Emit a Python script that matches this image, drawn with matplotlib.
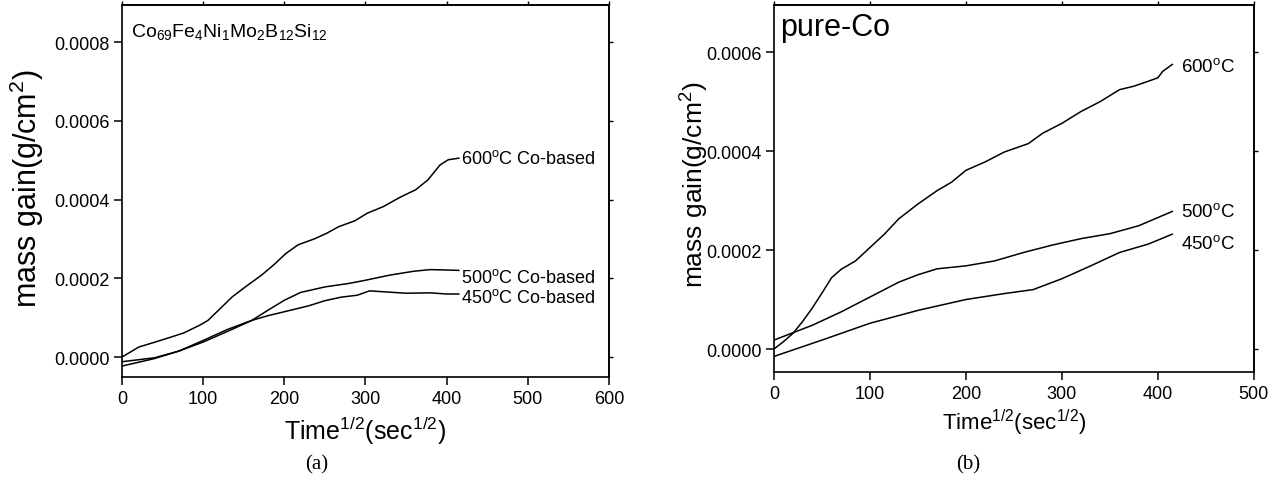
import matplotlib
matplotlib.use('Agg')
import matplotlib.pyplot as plt
import numpy as np

plt.rcParams['font.family'] = ['Liberation Sans', 'DejaVu Sans']
plt.rcParams['mathtext.fontset'] = 'custom'
plt.rcParams['mathtext.rm'] = 'Liberation Sans'
plt.rcParams['mathtext.it'] = 'Liberation Sans:italic'

# ---- data: (a) Co-based alloy ----
a_x600 = [0, 21, 41, 61, 76, 96, 106, 121, 136, 152, 172, 187, 202, 217, 237, 252,
          267, 287, 302, 322, 342, 362, 377, 392, 402, 415]
a_y600 = [0.0, 0.0000255, 0.000038, 0.000051, 0.000061, 0.000081, 0.000093, 0.000123,
          0.000153, 0.000178, 0.000208, 0.000234, 0.000263, 0.000285, 0.0003, 0.000314,
          0.000331, 0.000346, 0.000365, 0.000382, 0.000405, 0.000425, 0.00045, 0.000488,
          0.000501, 0.000505]
a_x500 = [0, 40, 70, 100, 130, 160, 180, 200, 220, 250, 280, 300, 330, 360, 380, 400, 415]
a_y500 = [-0.000023, -0.000004, 0.000015, 0.000038, 0.000065, 0.000093, 0.000119, 0.000144,
          0.000164, 0.000178, 0.000187, 0.000195, 0.000208, 0.000218, 0.000222, 0.000221,
          0.00022]
a_x450 = [0, 40, 70, 100, 130, 160, 180, 200, 230, 250, 270, 290, 305, 320, 350, 380, 400, 415]
a_y450 = [-0.000012, -0.000002, 0.000015, 0.000042, 0.00007, 0.000093, 0.000105, 0.000115,
          0.00013, 0.000143, 0.000152, 0.000157, 0.000168, 0.000166, 0.000162, 0.000163,
          0.00016, 0.00016]
a_labels = ['600$\\mathregular{^o}$C Co-based', '500$\\mathregular{^o}$C Co-based',
            '450$\\mathregular{^o}$C Co-based']
a_label_y = [0.000505, 0.000204, 0.000153]

# ---- data: (b) pure Co ----
b_x600 = [0, 10, 20, 30, 40, 50, 60, 70, 85, 100, 115, 130, 150, 170, 185, 200, 220, 240,
          265, 280, 300, 320, 340, 360, 375, 390, 400, 405, 415]
b_y600 = [0.0, 0.000015, 0.000032, 0.000056, 0.000083, 0.000113, 0.000144, 0.000161,
          0.000178, 0.000205, 0.000232, 0.000263, 0.000293, 0.00032, 0.000337, 0.000361,
          0.000378, 0.000398, 0.000415, 0.000436, 0.000456, 0.00048, 0.0005, 0.000524,
          0.000531, 0.000541, 0.000548, 0.000561, 0.000575]
b_x500 = [0, 20, 40, 70, 100, 130, 150, 170, 200, 230, 260, 290, 320, 350, 380, 415]
b_y500 = [0.000018, 0.000033, 0.000048, 0.000075, 0.000105, 0.000135, 0.00015, 0.000162,
          0.000168, 0.000178, 0.000195, 0.00021, 0.000223, 0.000233, 0.000249, 0.000278]
b_x450 = [0, 50, 100, 150, 200, 240, 270, 300, 330, 360, 390, 415]
b_y450 = [-0.000015, 0.000018, 0.000052, 0.000078, 0.0001, 0.000112, 0.00012, 0.000142,
          0.000168, 0.000195, 0.000212, 0.000232]
b_labels = ['600$\\mathregular{^o}$C', '500$\\mathregular{^o}$C', '450$\\mathregular{^o}$C']
b_label_y = [0.000571, 0.000278, 0.000215]

xlab = 'Time$\\mathregular{^{1/2}}$(sec$\\mathregular{^{1/2}}$)'
ylab = 'mass gain(g/cm$\\mathregular{^2}$)'


def style(ax, xt, yt):
    ax.set_xticks(xt)
    ax.set_yticks(yt)
    ax.set_yticklabels([f'{v:.4f}' for v in yt])
    ax.tick_params(axis='both', direction='out', length=6, width=1.1,
                   labelsize=13, pad=3)
    # small marks on top / right spines, no labels
    sec_x = ax.secondary_xaxis('top')
    sec_x.set_xticks(xt)
    sec_x.tick_params(direction='out', length=3, width=1.0, labeltop=False)
    sec_y = ax.secondary_yaxis('right')
    sec_y.set_yticks(yt)
    sec_y.tick_params(direction='out', length=3, width=1.0, labelright=False)
    for s in list(ax.spines.values()) + [sec_x.spines['top'], sec_y.spines['right']]:
        s.set_linewidth(1.2)


fig = plt.figure(figsize=(12.85, 4.81), dpi=100)

# (a)
ax1 = fig.add_axes([0.0949, 0.2141, 0.379, 0.7734])
for x, y in [(a_x600, a_y600), (a_x500, a_y500), (a_x450, a_y450)]:
    ax1.plot(x, y, color='black', lw=1.1)
for lab, ly in zip(a_labels, a_label_y):
    ax1.text(418, ly, lab, fontsize=13, ha='left', va='center')
ax1.set_xlim(0, 600)
ax1.set_ylim(-0.0000508, 0.000894)
style(ax1, np.arange(0, 601, 100), [0.0, 0.0002, 0.0004, 0.0006, 0.0008])
ax1.set_xlabel(xlab, fontsize=18)
ax1.xaxis.label.set_va('center')
ax1.xaxis.set_label_coords(0.5, -0.1425)
ax1.set_ylabel(ylab, fontsize=22)
ax1.yaxis.label.set_va('center')
ax1.yaxis.set_label_coords(-0.195, 0.51)
ax1.text(0.018, 0.93, 'Co$\\mathregular{_{69}}$Fe$\\mathregular{_4}$Ni$\\mathregular{_1}$'
         'Mo$\\mathregular{_2}$B$\\mathregular{_{12}}$Si$\\mathregular{_{12}}$',
         transform=ax1.transAxes, fontsize=14, ha='left', va='center')

# (b)
ax2 = fig.add_axes([0.6023, 0.2245, 0.3735, 0.763])
for x, y in [(b_x600, b_y600), (b_x500, b_y500), (b_x450, b_y450)]:
    ax2.plot(x, y, color='black', lw=1.1)
for lab, ly in zip(b_labels, b_label_y):
    ax2.text(424, ly, lab, fontsize=13.5, ha='left', va='center')
ax2.set_xlim(0, 500)
ax2.set_ylim(-0.0000465, 0.000695)
style(ax2, np.arange(0, 501, 100), [0.0, 0.0002, 0.0004, 0.0006])
ax2.set_xlabel(xlab, fontsize=16)
ax2.xaxis.label.set_va('center')
ax2.xaxis.set_label_coords(0.5, -0.136)
ax2.set_ylabel(ylab, fontsize=19)
ax2.yaxis.label.set_va('center')
ax2.yaxis.set_label_coords(-0.165, 0.512)
ax2.text(0.0125, 0.94, 'pure-Co', transform=ax2.transAxes, fontsize=22,
         ha='left', va='center')

fig.text(0.2467, 0.0333, '(a)', family='Liberation Serif', fontsize=15,
         ha='center', va='center')
fig.text(0.7533, 0.0333, '(b)', family='Liberation Serif', fontsize=15,
         ha='center', va='center')

fig.savefig('out.png', dpi=100, facecolor='white')
